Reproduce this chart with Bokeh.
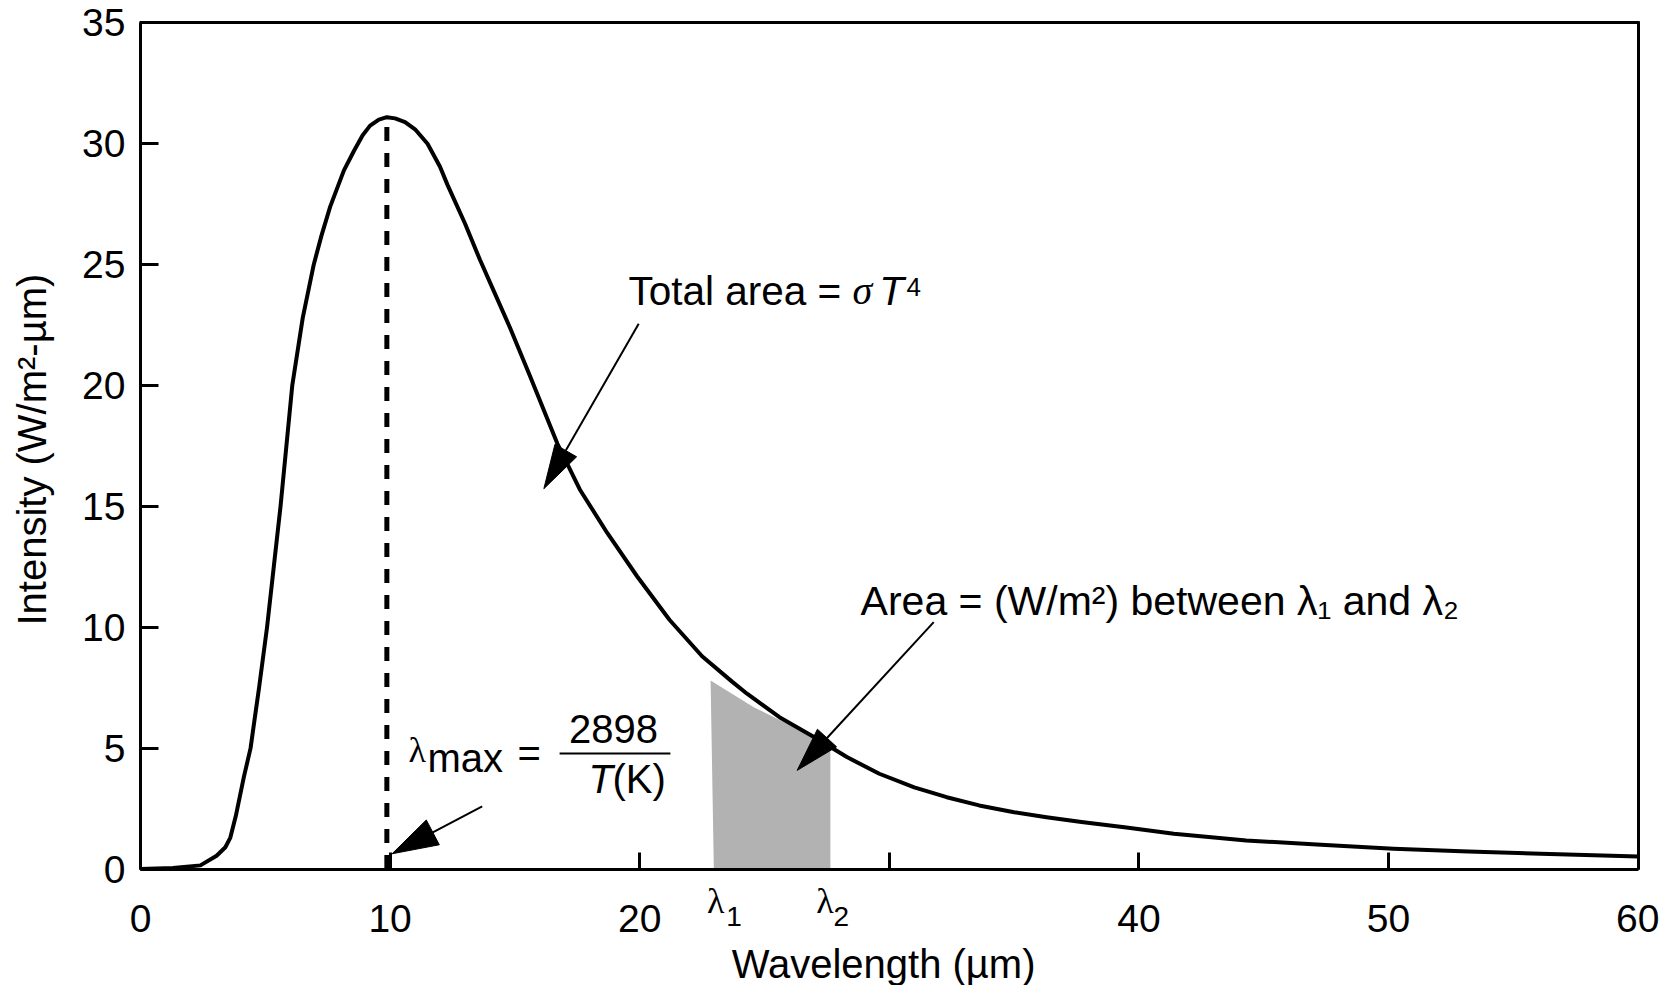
import math
from bokeh.plotting import figure
from bokeh.models import Range1d, FixedTicker, Label, LinearAxis
from bokeh.embed import file_html
from bokeh.resources import INLINE

# ---- data ----
wavelength = [0, 1.3, 2.4, 3.05, 3.4, 3.6, 3.82, 4.14, 4.41, 4.75,
              5.07, 5.35, 5.61, 6.08, 6.5, 6.94, 7.25, 7.6, 8.15, 8.55,
              8.9, 9.2, 9.55, 9.87, 10.2, 10.6, 11.0, 11.5, 12.0, 12.3,
              13.0, 13.6, 14.2, 14.8, 15.6, 16.7, 17.6, 18.7, 19.9, 21.2,
              22.5, 23.7, 24.3, 25.6, 27.0, 28.3, 29.6, 31.0, 32.3, 33.6,
              35.0, 36.3, 37.7, 39.5, 41.4, 44.3, 47.3, 50.2, 53.2, 56.1,
              60.0]
intensity = [0, 0.04, 0.15, 0.55, 0.9, 1.3, 2.2, 3.8, 5.0, 7.5,
             10.0, 12.6, 15.0, 20.0, 22.8, 25.0, 26.2, 27.4, 28.9, 29.7,
             30.35, 30.75, 31.0, 31.1, 31.05, 30.9, 30.6, 30.0, 29.05, 28.3,
             26.7, 25.2, 23.8, 22.4, 20.4, 17.6, 15.7, 13.9, 12.1, 10.3,
             8.8, 7.75, 7.25, 6.28, 5.45, 4.63, 3.94, 3.38, 2.97, 2.63,
             2.35, 2.14, 1.94, 1.72, 1.46, 1.18, 1.0, 0.84, 0.72, 0.63,
             0.52]

shade_x = [22.97, 22.84, 24.57, 26.31, 27.64, 27.64]
shade_y = [0, 7.8, 6.69, 5.8, 5.18, 0]

lambda_max = 9.87
peak_intensity = 31.0

x_ticks = [0, 10, 20, 30, 40, 50, 60]
x_tick_labels = ["0", "10", "20", "", "40", "50", "60"]
y_ticks = [0, 5, 10, 15, 20, 25, 30, 35]
y_tick_labels = ["0", "5", "10", "15", "20", "25", "30", "35"]

# ---- layout: the frame fills the canvas, axes sit at fixed data positions ----
W, H = 1659, 985
X0_PX, X60_PX = 140.0, 1637.6     # pixel position of x = 0 and x = 60
Y0_PX, Y35_PX = 868.5, 22.4       # pixel position of y = 0 and y = 35
SX = (X60_PX - X0_PX) / 60.0
SY = (Y0_PX - Y35_PX) / 35.0
XLO = -X0_PX / SX
XHI = XLO + W / SX
YHI = 35 + Y35_PX / SY
YLO = YHI - H / SY

FONT = "Liberation Sans"
SERIF = "Liberation Serif"

p = figure(width=W, height=H, output_backend="svg", toolbar_location=None,
           x_range=Range1d(XLO, XHI), y_range=Range1d(YLO, YHI),
           min_border=0)
p.grid.visible = False
p.background_fill_color = "white"
p.border_fill_color = "white"
p.outline_line_color = None

xa = p.xaxis[0]
ya = p.yaxis[0]
xa.fixed_location = 0
xa.bounds = (0, 60)
ya.fixed_location = 0
ya.bounds = (0, 35)

xa.ticker = FixedTicker(ticks=x_ticks)
xa.major_label_overrides = {t: l for t, l in zip(x_ticks, x_tick_labels)}
ya.ticker = FixedTicker(ticks=y_ticks)
ya.major_label_overrides = {t: l for t, l in zip(y_ticks, y_tick_labels)}

for ax in (xa, ya):
    ax.axis_line_width = 3
    ax.axis_line_color = "black"
    ax.major_tick_line_width = 3
    ax.major_tick_line_color = "black"
    ax.major_tick_out = 0
    ax.minor_tick_line_color = None
    ax.major_label_text_font = FONT
    ax.major_label_text_font_size = "39px"
    ax.major_label_text_color = "black"

xa.major_tick_in = 17
ya.major_tick_in = 18
xa.major_label_standoff = 36
ya.major_label_standoff = 15

# top and right frame lines
top = LinearAxis(fixed_location=35, bounds=(-0.06, 60.06), ticker=FixedTicker(ticks=[]),
                 axis_line_width=3, axis_line_color="black",
                 major_tick_line_color=None, minor_tick_line_color=None,
                 major_label_text_font_size="0px")
p.add_layout(top, "above")
right = LinearAxis(fixed_location=60, bounds=(0, 35.06), ticker=FixedTicker(ticks=[]),
                   axis_line_width=3, axis_line_color="black",
                   major_tick_line_color=None, minor_tick_line_color=None,
                   major_label_text_font_size="0px")
p.add_layout(right, "right")

# shaded band between lambda1 and lambda2
p.patch(shade_x, shade_y, fill_color="#b2b2b2", line_color=None)

# curve
p.line(wavelength, intensity, line_width=4, line_color="black", line_join="round")

# lambda max dashed line
p.segment(x0=[lambda_max], y0=[0], x1=[lambda_max], y1=[peak_intensity],
          line_width=5, line_color="black", line_dash="14 12")


def arrow(tail, tip, head_len, head_w):
    tx, ty = tail
    hx, hy = tip
    dx = (hx - tx) * SX
    dy = (hy - ty) * SY
    L = math.hypot(dx, dy)
    ux, uy = dx / L, dy / L
    bx, by = -ux * head_len, -uy * head_len
    nx, ny = -uy, ux
    c1 = (bx + nx * head_w / 2, by + ny * head_w / 2)
    c2 = (bx - nx * head_w / 2, by - ny * head_w / 2)
    p.segment(x0=[tx], y0=[ty], x1=[hx + bx / SX], y1=[hy + by / SY],
              line_width=2, line_color="black")
    p.patch([hx, hx + c1[0] / SX, hx + c2[0] / SX],
            [hy, hy + c1[1] / SY, hy + c2[1] / SY],
            fill_color="black", line_color="black", line_width=1)


arrow((19.96, 22.56), (16.16, 15.73), 44, 25)
arrow((31.78, 10.21), (26.31, 4.08), 44, 26)
arrow((13.69, 2.59), (10.08, 0.63), 46, 28)

BASE_FIX = 0.34  # Bokeh's svg text sits this many em below the requested baseline


def lab(x, y, text, size, font=FONT, style="normal", align="left", angle=0.0):
    if angle == 0.0:
        y = y + BASE_FIX * size / SY
    else:
        x = x - BASE_FIX * size / SX
    p.add_layout(Label(x=x, y=y, text=text, text_font=font,
                       text_font_size=f"{size}px", text_font_style=style,
                       text_align=align, text_baseline="alphabetic",
                       text_color="black", angle=angle))


# axis titles
lab(29.77, -4.5, "Wavelength (µm)", 40, align="center")
lab(-3.806, 17.35, "Intensity (W/m²-µm)", 40, align="center", angle=math.pi / 2)

# Total area = sigma T^4
lab(19.55, 23.35, "Total area =", 40.5)
lab(28.53, 23.35, "σ", 40, font=SERIF, style="italic")
lab(29.6, 23.35, "T", 40.5, style="italic")
lab(30.69, 23.7, "4", 26)

# Area between lambda1 and lambda2
lab(28.85, 10.53, "Area = (W/m²) between λ₁ and λ₂", 41)

# lambda max formula
lab(10.74, 4.41, "λ", 36, font=SERIF)
lab(11.5, 4.03, "max", 40)
lab(15.1, 4.24, "=", 40)
lab(18.95, 5.23, "2898", 40, align="center")
p.segment(x0=[16.79], y0=[4.78], x1=[21.23], y1=[4.78], line_width=2,
          line_color="black")
lab(17.95, 3.17, "T", 40, style="italic")
lab(18.91, 3.17, "(K)", 40)

# lambda1 / lambda2 markers below the axis
lab(22.7, -1.84, "λ", 36, font=SERIF)
lab(23.47, -2.34, "1", 28)
lab(27.07, -1.84, "λ", 36, font=SERIF)
lab(27.76, -2.34, "2", 28)

open("out.html", "w").write(file_html(p, INLINE))
